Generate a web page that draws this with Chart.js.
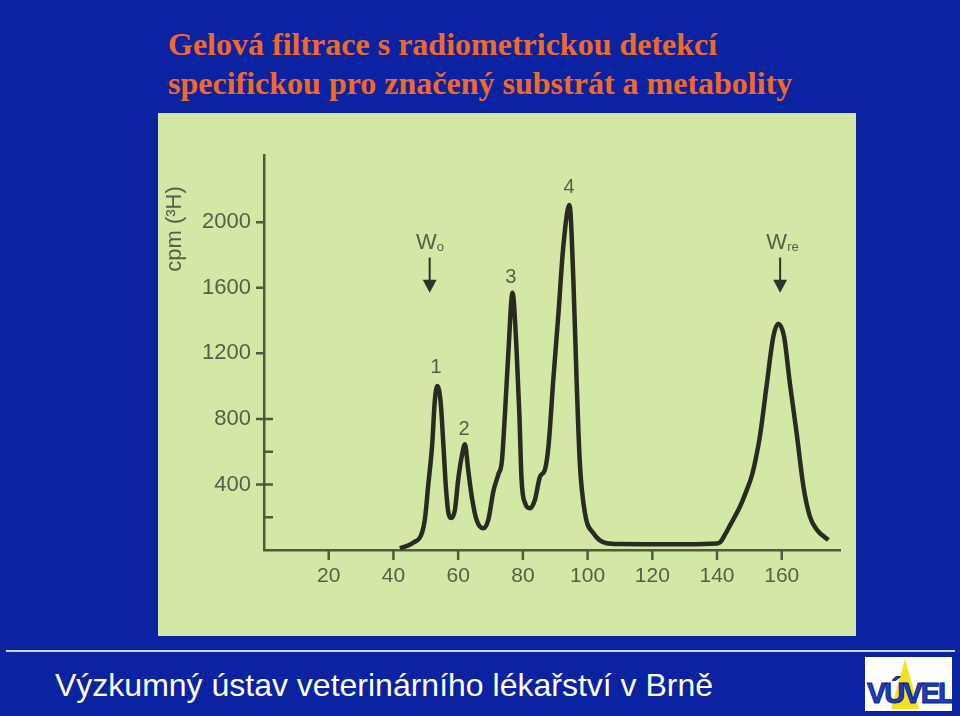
<!DOCTYPE html>
<html>
<head>
<meta charset="utf-8">
<script src="https://cdn.jsdelivr.net/npm/chart.js@4.4.1/dist/chart.umd.min.js"></script>
<style>
    html, body { margin: 0; padding: 0; }
    body { width: 960px; height: 716px; background: #0b23a0; position: relative; overflow: hidden; }
    #title {
        position: absolute; left: 168px; top: 25px;
        font-family: 'Liberation Serif', 'Times New Roman', serif; font-weight: bold;
        font-size: 32px; line-height: 39px; color: #f0692a; white-space: nowrap;
    }
    #panel { position: absolute; left: 158px; top: 113px; width: 698px; height: 523px; background: #d3e8a6; }
    #sep { position: absolute; left: 6px; top: 650px; width: 949px; height: 2px; background: #c9d5f2; }
    #footer {
        position: absolute; left: 55px; top: 667px;
        font-family: 'Liberation Sans', Arial, sans-serif; font-size: 32px; color: #ffffff; white-space: nowrap;
    }
    #logo { position: absolute; left: 865px; top: 657px; width: 87px; height: 54px; background: #fff; overflow: hidden; }
    #logo .tri { position: absolute; left: 26px; top: 2px; width: 0; height: 0;
        border-left: 14px solid transparent; border-right: 14px solid transparent; border-bottom: 50px solid #f4e21c; }
    #logo .txt { position: absolute; left: 2px; top: 20px; font-family: 'Liberation Sans', Arial, sans-serif;
        font-weight: bold; font-size: 29px; color: #1b3fc0; letter-spacing: -2px; -webkit-text-stroke: 1px #0a1f80; }
</style>
</head>
<body>
<div id="title">Gelová filtrace s radiometrickou detekcí<br>specifickou pro značený substrát a metabolity</div>
<div id="panel"><canvas id="gfChart" width="698" height="523"></canvas></div>
<div id="sep"></div>
<div id="footer">Výzkumný ústav veterinárního lékařství v Brně</div>
<div id="logo"><div class="tri"></div><div class="txt">VÚVEL</div></div>

<script>
// fraction number vs. radioactivity (cpm)
const fractions = [42, 46, 48.8, 49.8, 50.7, 52, 52.8, 53.6, 54.6, 55.4, 56.2, 57, 57.8, 59, 60, 61.1, 62.1, 63.1, 64.2, 65.7,
    67.8, 69.3, 70.9, 72.4, 73.5, 74.5, 75.5, 76.8, 78, 78.9, 79.6, 80.7, 82.2, 83.7, 85.3, 86.8, 87.9, 89.4, 91, 92.5,
    94.4, 95.6, 96.6, 97.6, 99.2, 101.8, 105.9, 110, 120, 130, 140, 141, 142.5, 144, 147.1, 149.2, 150.7, 152, 153.3,
    155.3, 157.4, 158.9, 160.7, 162.5, 164.6, 166.7, 168.7, 171, 174.4];
const cpm = [10, 43, 104, 200, 385, 650, 916, 1000, 898, 654, 387, 225, 195, 245, 428, 570, 645, 489, 326, 183,
    132, 183, 360, 460, 540, 845, 1200, 1570, 1242, 835, 428, 285, 255, 305, 448, 489, 631, 1038, 1446, 1853,
    2105, 1650, 1038, 530, 224, 102, 41, 36, 35, 35, 40, 48, 95, 150, 265, 367, 450, 560, 700,
    1000, 1303, 1380, 1303, 1018, 713, 387, 204, 120, 61];

const xTicks = [20, 40, 60, 80, 100, 120, 140, 160];
const yTicks = [400, 800, 1200, 1600, 2000];
const yMinorTicks = [200, 600];

const peakLabels = [
    { text: '1', x: 53.2, y: 1112 },
    { text: '2', x: 61.8, y: 733 },
    { text: '3', x: 76.3, y: 1662 },
    { text: '4', x: 94.3, y: 2211 }
];
const markers = [
    { text: 'W', sub: 'o', x: 51.2 },
    { text: 'W', sub: 're', x: 159.5 }
];

const inkColor = '#566049';
const axisColor = '#4d5c3c';
const fontFamily = "'Liberation Sans', Arial, sans-serif";

document.addEventListener('DOMContentLoaded', () => {
    const canvas = document.getElementById('gfChart');
    const ctx = canvas.getContext('2d');

    const points = fractions.map((f, i) => ({ x: f, y: cpm[i] }));

    new Chart(ctx, {
        type: 'line',
        data: {
            datasets: [{
                data: points,
                borderColor: '#2a2b20',
                borderWidth: 4.5,
                pointRadius: 0,
                fill: false,
                cubicInterpolationMode: 'monotone'
            }]
        },
        options: {
            responsive: false,
            animation: false,
            layout: { padding: { top: 42, right: 16, left: 0, bottom: 0 } },
            scales: {
                x: {
                    type: 'linear',
                    min: 0,
                    max: 178,
                    afterBuildTicks: axis => { axis.ticks = xTicks.map(v => ({ value: v })); },
                    afterFit: axis => { axis.height = 86; },
                    grid: { display: false },
                    border: { display: true, color: axisColor, width: 2.5 },
                    ticks: {
                        color: inkColor, font: { family: fontFamily, size: 21 }, padding: 6, maxRotation: 0,
                        callback: v => String(v)
                    }
                },
                y: {
                    min: 0,
                    max: 2410,
                    afterBuildTicks: axis => { axis.ticks = yTicks.map(v => ({ value: v })); },
                    afterFit: axis => { axis.width = 106; },
                    grid: { display: false },
                    border: { display: true, color: axisColor, width: 2.5 },
                    ticks: {
                        color: inkColor, font: { family: fontFamily, size: 22 }, padding: 5,
                        callback: v => String(v)
                    }
                }
            },
            plugins: {
                legend: { display: false },
                tooltip: { enabled: false }
            }
        },
        plugins: [{
            id: 'tickMarks',
            afterDraw: (chart) => {
                const c = chart.ctx;
                const xs = chart.scales.x;
                const ys = chart.scales.y;
                const left = xs.left;
                const bottom = ys.bottom;
                c.save();
                c.strokeStyle = axisColor;
                c.lineWidth = 2.5;
                c.beginPath();
                yTicks.forEach(v => {
                    const py = ys.getPixelForValue(v);
                    c.moveTo(left - 8, py);
                    c.lineTo(v <= 800 ? left + 9 : left, py);
                });
                yMinorTicks.forEach(v => {
                    const py = ys.getPixelForValue(v);
                    c.moveTo(left, py);
                    c.lineTo(left + 9, py);
                });
                xTicks.forEach(v => {
                    const px = xs.getPixelForValue(v);
                    c.moveTo(px, bottom);
                    c.lineTo(px, bottom + 10);
                });
                c.stroke();
                c.restore();
            }
        }, {
            id: 'annotations',
            afterDraw: (chart) => {
                const c = chart.ctx;
                const xs = chart.scales.x;
                const ys = chart.scales.y;
                c.save();
                c.fillStyle = inkColor;
                c.textAlign = 'center';
                c.textBaseline = 'middle';
                c.font = '20px ' + fontFamily;
                peakLabels.forEach(p => {
                    c.fillText(p.text, xs.getPixelForValue(p.x), ys.getPixelForValue(p.y));
                });

                markers.forEach(m => {
                    const px = xs.getPixelForValue(m.x);
                    const top = ys.getPixelForValue(1784);
                    const tip = ys.getPixelForValue(1570);
                    c.fillStyle = inkColor;
                    c.font = '22px ' + fontFamily;
                    c.textAlign = 'right';
                    c.fillText(m.text, px + 7, top - 15);
                    c.font = '13px ' + fontFamily;
                    c.textAlign = 'left';
                    c.fillText(m.sub, px + 7, top - 10);
                    c.strokeStyle = '#2f3328';
                    c.fillStyle = '#2f3328';
                    c.lineWidth = 2;
                    c.beginPath();
                    c.moveTo(px, top);
                    c.lineTo(px, tip - 10);
                    c.stroke();
                    c.beginPath();
                    c.moveTo(px - 7, tip - 13);
                    c.lineTo(px + 7, tip - 13);
                    c.lineTo(px, tip);
                    c.closePath();
                    c.fill();
                });

                // rotated y-axis title
                c.translate(17, 116);
                c.rotate(-Math.PI / 2);
                c.fillStyle = inkColor;
                c.textAlign = 'center';
                c.font = '22px ' + fontFamily;
                c.fillText('cpm (³H)', 0, 0);
                c.restore();
            }
        }]
    });
});
</script>
</body>
</html>
